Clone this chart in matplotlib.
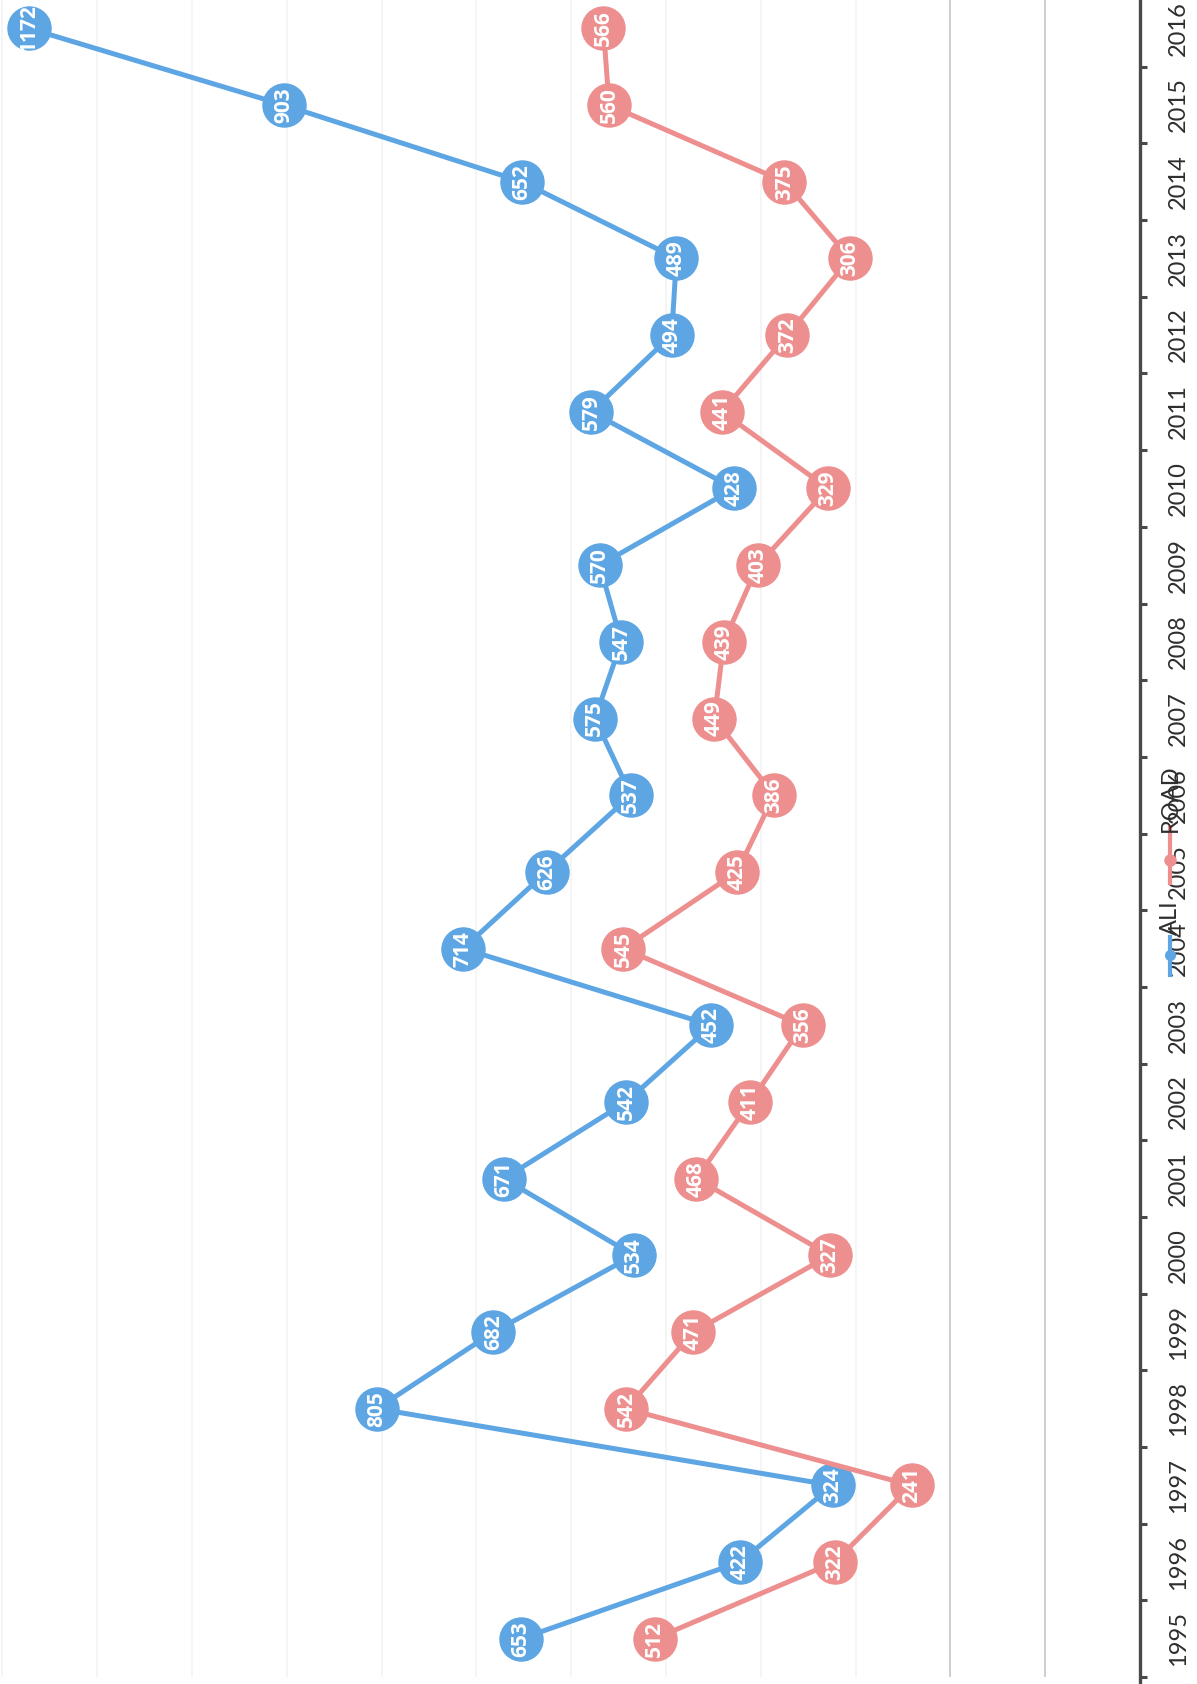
import matplotlib
matplotlib.use("Agg")
import matplotlib.pyplot as plt
from matplotlib.lines import Line2D

# Data (chart is printed sideways: years run up the right edge, values grow to the left)
years = list(range(1995, 2017))
ali = [653, 422, 324, 805, 682, 534, 671, 542, 452, 714, 626,
       537, 575, 547, 570, 428, 579, 494, 489, 652, 903, 1172]
road = [512, 322, 241, 542, 471, 327, 468, 411, 356, 545, 425,
        386, 449, 439, 403, 329, 441, 372, 306, 375, 560, 566]
series_names = ["ALI", "ROAD"]

BLUE = "#5da6e3"
RED = "#ee8f8f"
AXIS = "#474a48"
TXT = "#2e2e2e"

W, H = 1197, 1684
fig = plt.figure(figsize=(W / 100, H / 100), dpi=100)
ax = fig.add_axes([0, 0, 1140 / W, 1])

# grid
for g in range(100, 1201, 100):
    col = "#c9c9c9" if g <= 200 else "#f4f4f4"
    ax.vlines(g, 1994.5, 2016.37, color=col, lw=1.3, zorder=0)

for vals, col in [(ali, BLUE), (road, RED)]:
    ax.plot(vals, years, color=col, lw=3.6, marker="o", ms=31,
            markerfacecolor=col, markeredgecolor=col, zorder=3)
    for v, y in zip(vals, years):
        ax.text(v, y, str(v), rotation=90, ha="center", va="center",
                color="white", fontsize=15, fontweight="bold",
                family="Open Sans", zorder=4)

for s in ["left", "top", "bottom"]:
    ax.spines[s].set_visible(False)
ax.spines["right"].set_color(AXIS)
ax.spines["right"].set_linewidth(2.4)

ax.set_xticks([])
ax.yaxis.tick_right()
ax.set_yticks(years)
ax.set_yticklabels([str(y) for y in years], rotation=90, va="center",
                   fontsize=17, color=TXT, family="Lato")
ax.tick_params(axis="y", which="major", length=0, pad=20)
ax.set_yticks([y + 0.5 for y in range(1994, 2016)], minor=True)
ax.tick_params(axis="y", which="minor", length=5, width=2.2, color=AXIS,
               direction="out")

ax.set_xlim(1202.5, 0)
ax.set_ylim(1994.41, 2016.37)

# legend drawn sideways next to the year axis
lx = 1170 / W
def fy(p):
    return 1 - p / H
fig.add_artist(Line2D([lx, lx], [fy(975), fy(937)], color=BLUE, lw=3,
                      transform=fig.transFigure))
fig.add_artist(Line2D([lx], [fy(955)], color=BLUE, marker="o", ms=7,
                      transform=fig.transFigure))
fig.text(lx, fy(918), series_names[0], rotation=90, ha="center", va="center",
         fontsize=17, color=TXT, family="Lato")
fig.add_artist(Line2D([lx, lx], [fy(883), fy(827)], color=RED, lw=3,
                      transform=fig.transFigure))
fig.add_artist(Line2D([lx], [fy(860)], color=RED, marker="o", ms=8,
                      transform=fig.transFigure))
fig.text(lx, fy(798), series_names[1], rotation=90, ha="center", va="center",
         fontsize=17, color=TXT, family="Lato")

fig.savefig("out.png", dpi=100)
